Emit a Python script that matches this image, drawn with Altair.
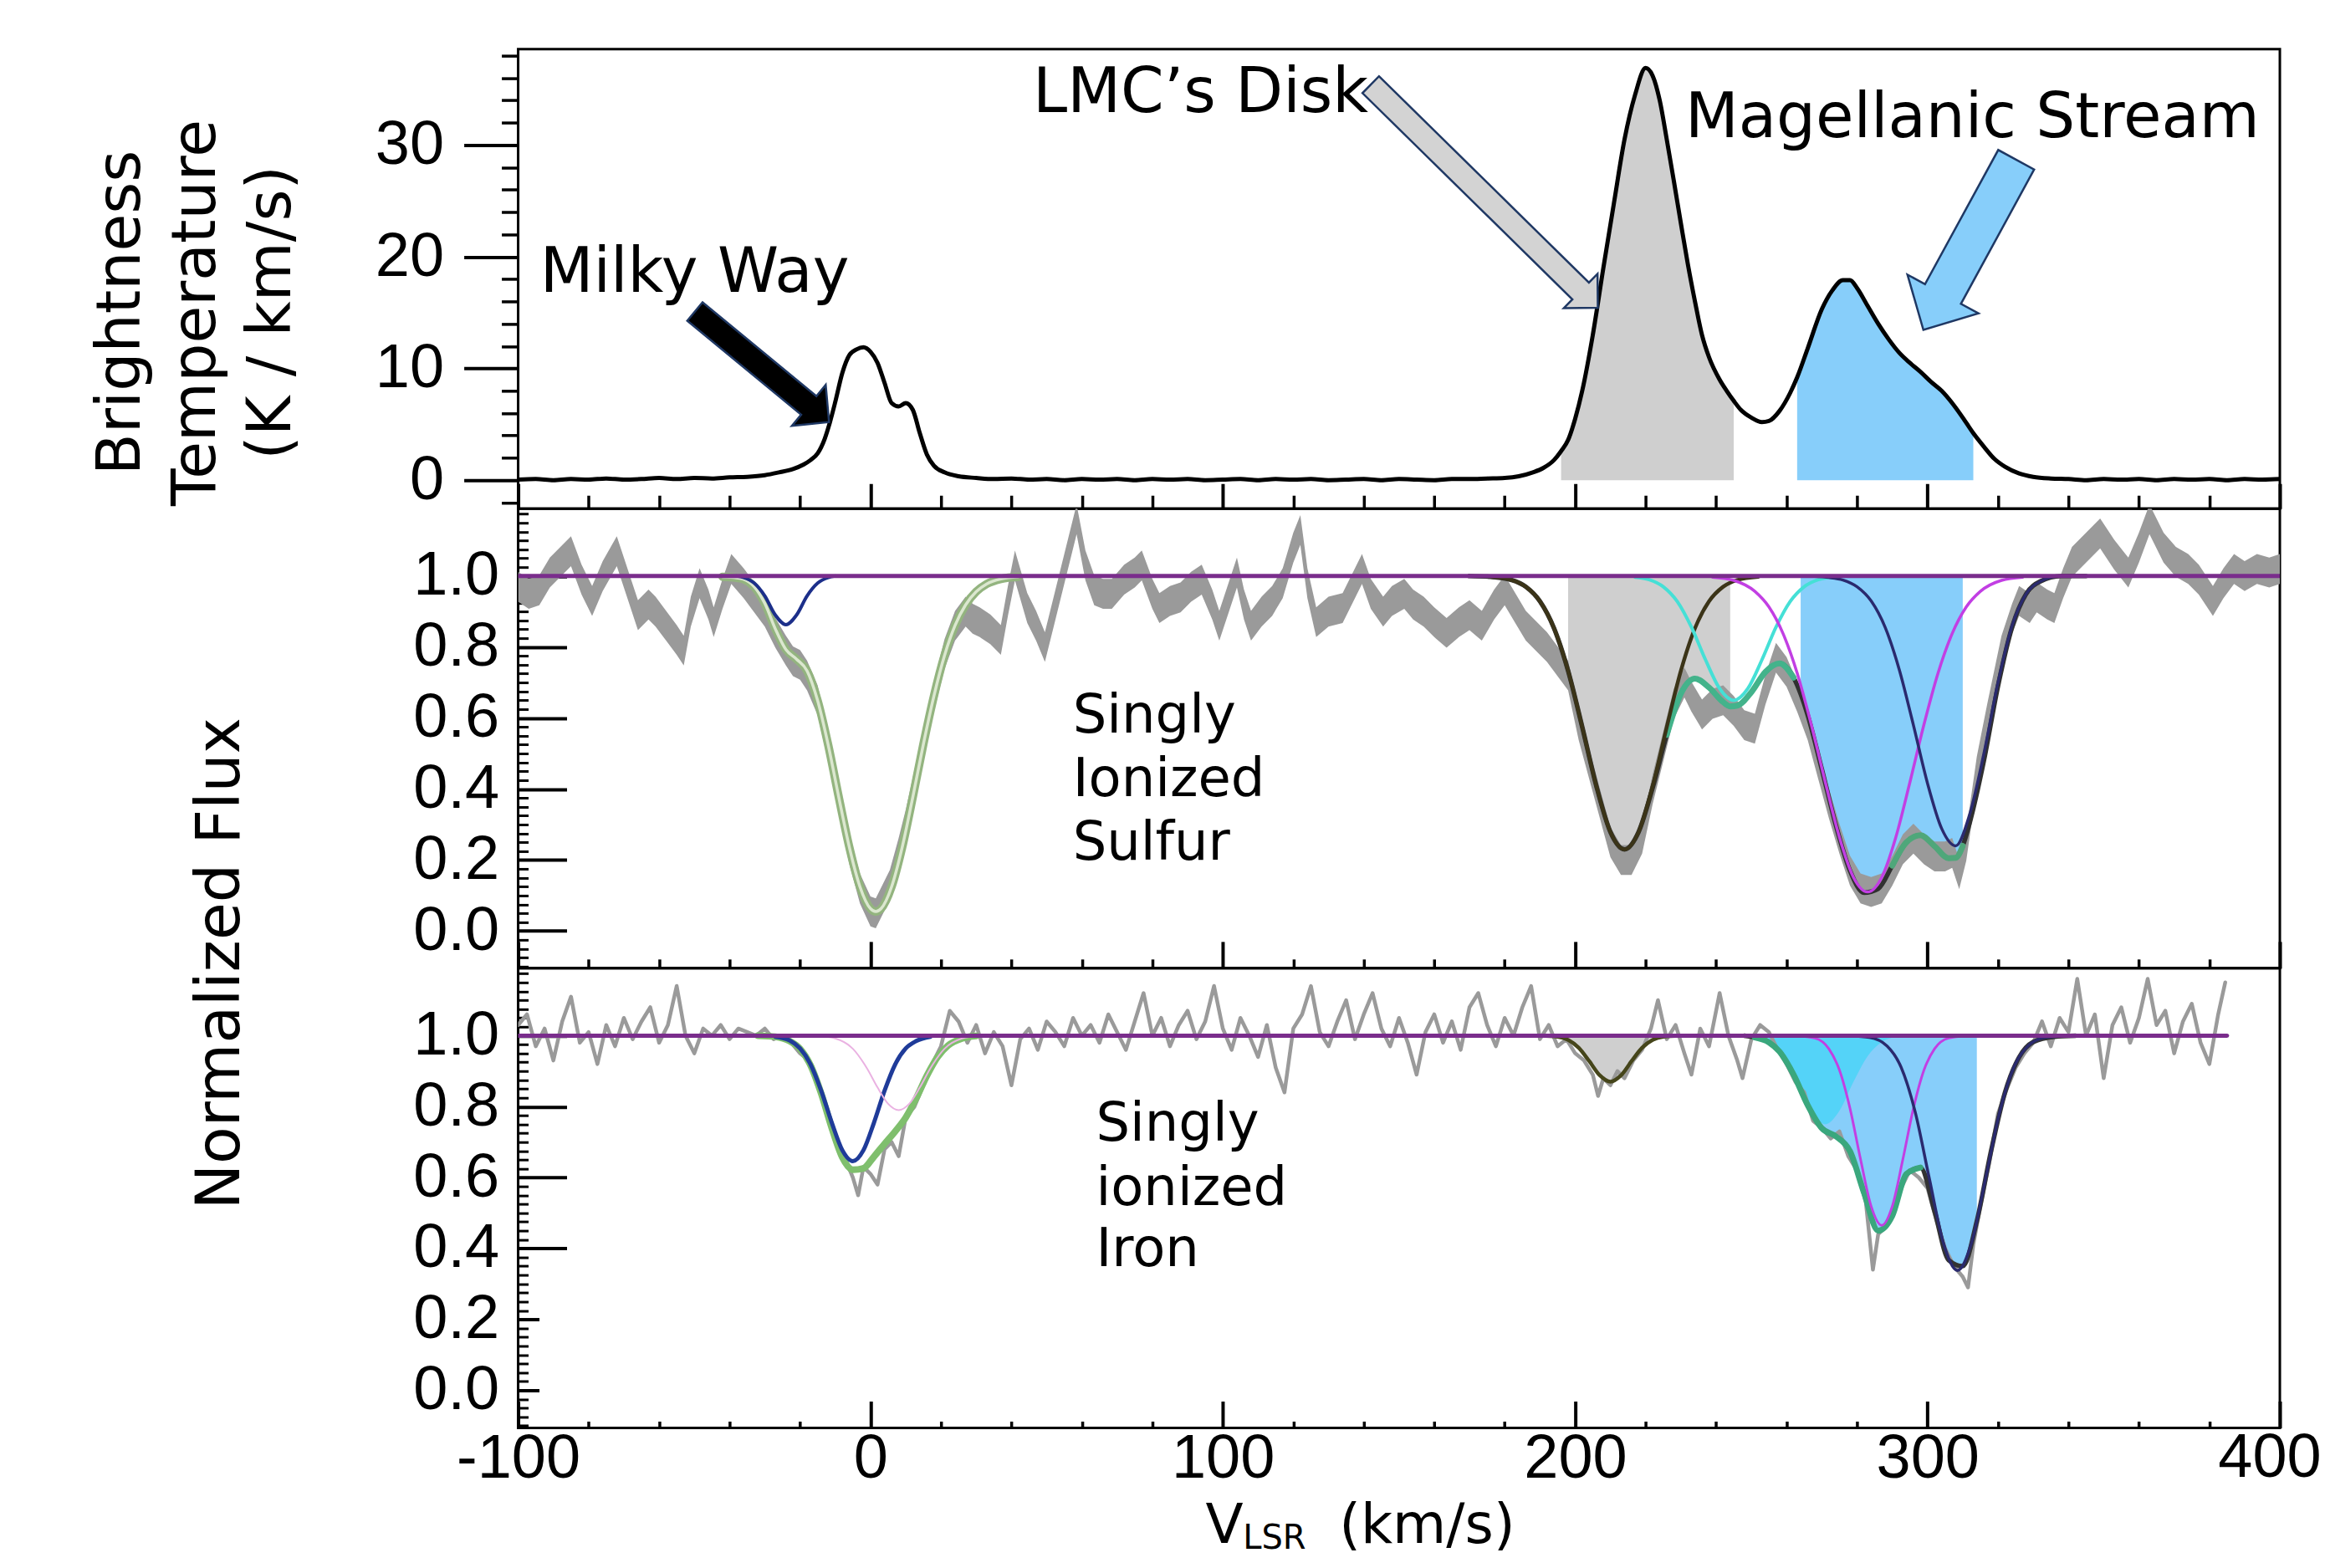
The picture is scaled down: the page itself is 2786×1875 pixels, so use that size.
import altair as alt
import pandas as pd

# ---------------- HI 21-cm emission (top panel): (velocity km/s, brightness temperature) ----------------
HI = [(-100,0.05),(-95,0.1),(-90,0.0),(-85,0.1),(-80,0.05),(-75,0.15),(-70,0.05),(-65,0.1),(-60,0.2),(-55,0.1),
      (-50,0.2),(-45,0.15),(-40,0.25),(-35,0.3),(-30,0.45),(-26,0.7),(-22,1.0),(-19,1.4),(-17,1.8),(-15,2.4),
      (-13,3.7),(-11.5,5.2),(-10,7.0),(-8,9.6),(-6,11.2),(-4,11.7),(-2,11.9),(0,11.5),(2,10.5),(4,8.7),
      (6,6.9),(8,6.6),(10,6.9),(12,6.3),(14,4.2),(16,2.3),(18,1.3),(21,0.7),(25,0.35),(30,0.2),
      (35,0.1),(40,0.15),(45,0.05),(50,0.1),(55,0.0),(60,0.1),(65,0.05),(70,0.1),(75,0.0),(80,0.1),
      (85,0.05),(90,0.1),(95,0.0),(100,0.05),(105,0.1),(110,0.0),(115,0.1),(120,0.05),(125,0.1),(130,0.0),
      (135,0.05),(140,0.1),(145,0.0),(150,0.1),(155,0.05),(160,0.0),(165,0.1),(170,0.1),(175,0.15),(180,0.2),
      (184,0.35),(188,0.7),(191,1.1),(194,1.8),(196,2.6),(198,3.6),(200,5.5),(202,8.0),(205,13.0),(208,19.0),
      (211,24.8),(214,30.5),(217,34.5),(220,36.9),(222,36.2),(224,34.0),(226,30.5),(228,26.8),(230,23.0),(232,19.3),
      (234,16.0),(236,13.0),(238,11.0),(241,9.0),(243,8.0),(245,7.1),(247,6.3),(250,5.6),(253,5.2),(255,5.3),
      (258,6.2),(261,7.8),(263,9.2),(266,11.8),(270,15.3),(273,17.0),(276,17.9),(278,17.9),(280,17.2),(283,15.6),
      (286,14.0),(289,12.6),(292,11.4),(295,10.5),(298,9.7),(301,8.8),(304,8.0),(307,6.9),(310,5.6),(313,4.2),
      (316,3.0),(319,1.9),(322,1.2),(326,0.6),(330,0.3),(335,0.15),(340,0.1),(345,0.0),(350,0.1),(355,0.05),
      (360,0.1),(365,0.0),(370,0.1),(375,0.05),(380,0.1),(385,0.0),(390,0.1),(395,0.05),(400,0.1)]

# ---------------- Singly ionized sulfur (middle panel): normalized flux ----------------
SII = [(-100,0.97),(-97,0.95),(-94,0.96),(-91,1.01),(-88,1.04),(-85,1.07),(-82,0.99),(-79,0.93),(-76,1.00),(-72,1.07),
       (-69,0.98),(-66,0.89),(-63,0.92),(-61,0.90),(-58,0.86),(-55,0.82),(-53,0.79),(-51,0.90),(-48.5,0.98),(-46,0.92),
       (-44.5,0.87),(-42,0.95),(-39.5,1.02),(-36,0.98),(-33,0.94),(-30,0.90),(-27,0.84),(-24,0.79),(-22,0.76),(-20,0.75),
       (-18,0.72),(-15,0.65),(-12,0.52),(-9,0.37),(-6,0.23),(-3,0.12),(0,0.055),(1.5,0.05),(3,0.08),(5.5,0.13),
       (8,0.22),(10,0.30),(12,0.39),(15,0.53),(18,0.66),(21,0.78),(24,0.86),(27,0.90),(29,0.88),(31,0.87),
       (34,0.85),(37,0.82),(39,0.93),(41,1.03),(44.5,0.91),(47,0.86),(49.5,0.80),(52,0.90),(55,1.02),(58.5,1.16),
       (61,1.03),(63.5,0.96),(66,0.95),(68.5,0.95),(72,0.99),(75,1.01),(77,1.03),(80,0.95),(82,0.91),(85,0.93),
       (88,0.94),(91,0.97),(94,0.99),(97,0.92),(99,0.86),(102,0.95),(104,1.01),(106,0.92),(108,0.86),(111,0.90),
       (114,0.93),(117,0.98),(120,1.08),(122,1.13),(124,0.98),(126.5,0.87),(130,0.90),(134,0.91),(137,0.97),(139.5,1.02),
       (142,0.95),(145.5,0.90),(148,0.93),(151.5,0.95),(154,0.92),(157,0.90),(160,0.87),(163.5,0.84),(167,0.87),(170,0.89),
       (173.5,0.86),(177,0.92),(180,0.96),(183,0.91),(186,0.86),(189,0.83),(192,0.80),(195,0.76),(198,0.72),(201,0.58),
       (204,0.47),(207,0.36),(210,0.25),(213,0.20),(216,0.20),(219,0.26),(222,0.40),(225,0.52),(228,0.64),(231,0.70),
       (233,0.66),(236,0.61),(239,0.64),(242,0.65),(245,0.62),(248,0.58),(251,0.57),(254,0.68),(257,0.77),(260,0.73),
       (263,0.66),(266,0.58),(269,0.47),(272,0.36),(275,0.26),(278,0.17),(281,0.12),(284,0.11),(287,0.12),(290,0.17),
       (293,0.23),(296,0.26),(299,0.23),(302,0.21),(305,0.21),(307,0.22),(309,0.16),(311,0.24),(314,0.45),(317,0.60),
       (321,0.79),(324,0.88),(326,0.93),(329,0.91),(331,0.94),(334,0.92),(336,0.91),(338.5,0.98),(341,1.04),(345,1.08),
       (349,1.12),(353,1.06),(357,1.01),(360,1.08),(363,1.16),(367,1.08),(370.5,1.04),(374,1.02),(377,0.99),(381,0.93),
       (384,0.98),(387,1.02),(390,1.00),(393.5,1.02),(397,1.01),(400,1.02)]

SII_MW_TOT = [(-42,0.998),(-38,0.995),(-36,0.991),(-33,0.970),(-30,0.923),(-27,0.851),(-24,0.793),(-21,0.766),(-18,0.733),
              (-15,0.649),(-12,0.524),(-9,0.377),(-6,0.236),(-3,0.125),(0,0.063),(1.5,0.055),(3,0.063),(6,0.125),(9,0.236),
              (12,0.377),(15,0.526),(18,0.662),(21,0.776),(24,0.861),(27,0.919),(30,0.956),(33,0.978),(37,0.992),(42,0.998)]
SII_MW_BLUE = [(-38,1.0),(-36,0.996),(-33,0.98),(-30,0.944),(-27,0.89),(-24,0.863),(-21,0.89),(-18,0.944),(-15,0.98),
               (-12,0.996),(-10,1.0)]
SII_TOT = [(170,1.0),(176,0.998),(182,0.989),(186,0.970),(190,0.929),(194,0.853),(198,0.733),(202,0.575),(206,0.409),
           (210,0.279),(214,0.230),(218,0.279),(222,0.404),(226,0.553),(230,0.669),(234,0.711),(238,0.686),(242,0.645),
           (244,0.633),(246,0.635),(250,0.673),(254,0.730),(258,0.754),(262,0.714),(264,0.668),(266,0.608),(270,0.456),
           (274,0.298),(278,0.170),(282,0.108),(286,0.119),(290,0.184),(294,0.250),(298,0.270),(302,0.239),(306,0.205),
           (308,0.206),(310,0.240),(312,0.306),(316,0.480),(320,0.690),(324,0.856),(328,0.950),(332,0.985),(338,1.0),(345,1.0)]
SII_LMC = [(176,0.998),(182,0.989),(186,0.970),(190,0.929),(194,0.853),(198,0.733),(202,0.575),(206,0.409),(210,0.279),
           (214,0.230),(218,0.279),(222,0.409),(226,0.575),(230,0.733),(234,0.853),(238,0.929),(242,0.970),(246,0.989),(252,0.998)]
SII_CYAN = [(217,0.997),(221,0.990),(225,0.970),(229,0.928),(233,0.856),(237,0.764),(241,0.683),(245,0.650),(249,0.683),
            (253,0.764),(257,0.856),(261,0.928),(265,0.970),(269,0.990),(273,0.997)]
SII_MAG = [(239,0.997),(245,0.988),(251,0.957),(255,0.913),(259,0.838),(263,0.727),(267,0.582),(271,0.419),(275,0.264),
           (279,0.151),(283,0.110),(287,0.151),(291,0.264),(295,0.419),(299,0.582),(303,0.727),(307,0.838),(311,0.913),
           (315,0.957),(321,0.988),(327,0.997)]
SII_NAVY = [(268,0.999),(272,0.996),(276,0.989),(280,0.970),(284,0.930),(288,0.855),(292,0.736),(296,0.580),(300,0.416),
            (304,0.289),(308,0.240),(312,0.330),(316,0.500),(320,0.700),(324,0.860),(328,0.950),(332,0.985),(338,1.0),(342,1.0)]
CONT_S = [(-100,1.0),(400,1.0)]

# ---------------- Singly ionized iron (bottom panel): normalized flux ----------------
FE = [(-100,1.03),(-97.5,1.06),(-95,0.97),(-92.5,1.02),(-90,0.93),(-87.5,1.04),(-85,1.11),(-82.5,0.98),(-80,1.01),(-77.5,0.92),
      (-75,1.03),(-72.5,0.97),(-70,1.05),(-67.5,0.99),(-65,1.04),(-62.5,1.08),(-60,0.98),(-57.5,1.03),(-55,1.14),(-52.5,1.00),
      (-50,0.95),(-47.5,1.02),(-45,1.00),(-42.5,1.03),(-40,0.99),(-37.5,1.02),(-35,1.01),(-32.5,1.00),(-30,1.02),(-27.5,0.99),
      (-25,1.00),(-22.5,0.98),(-20,0.95),(-17.5,0.93),(-15,0.87),(-12.5,0.79),(-10,0.72),(-7.5,0.66),(-5,0.60),(-3.5,0.55),
      (-2,0.63),(0,0.61),(2,0.58),(4,0.68),(6,0.70),(8,0.66),(10,0.77),(12.5,0.80),(15,0.86),(17.5,0.92),
      (20,0.97),(22.5,1.07),(25,1.04),(27.5,0.98),(30,1.03),(32.5,0.95),(35,1.01),(37.5,0.97),(40,0.86),(42.5,0.99),
      (45,1.02),(47.5,0.96),(50,1.04),(52.5,1.01),(55,0.97),(57.5,1.05),(60,1.00),(62.5,1.03),(65,0.98),(67.5,1.06),
      (70,1.01),(72.5,0.96),(75,1.04),(77.5,1.12),(80,1.00),(82.5,1.05),(85,0.97),(87.5,1.03),(90,1.07),(92.5,0.99),
      (95,1.04),(97.5,1.14),(100,1.02),(102.5,0.96),(105,1.05),(107.5,1.00),(110,0.94),(112.5,1.03),(115,0.91),(117.5,0.84),
      (120,1.02),(122.5,1.06),(125,1.14),(127.5,1.01),(130,0.97),(132.5,1.04),(135,1.10),(137.5,0.99),(140,1.06),(142.5,1.12),
      (145,1.02),(147.5,0.97),(150,1.05),(152.5,0.98),(155,0.89),(157.5,1.01),(160,1.06),(162.5,0.98),(165,1.04),(167.5,0.96),
      (170,1.08),(172.5,1.12),(175,1.03),(177.5,0.97),(180,1.05),(182.5,1.00),(185,1.08),(187.5,1.14),(190,0.99),(192.5,1.03),
      (195,0.97),(197.5,0.99),(200,0.95),(202.5,0.93),(205,0.89),(206.5,0.83),(208,0.88),(210,0.86),(212,0.90),(214,0.88),
      (216.5,0.93),(219,0.96),(221.5,1.02),(223.5,1.10),(226,0.99),(228.5,1.03),(231,0.95),(233,0.89),(235.5,1.02),(238,0.97),
      (241,1.12),(243.5,1.00),(246,0.93),(247.5,0.88),(250,0.99),(252.5,1.03),(255,1.01),(257.5,0.96),(260,0.92),(262.5,0.87),
      (265,0.84),(267.5,0.76),(270,0.74),(272.5,0.71),(275,0.73),(277.5,0.66),(280,0.62),(282.5,0.53),(284.5,0.34),(286,0.44),
      (288,0.46),(290,0.50),(292.5,0.57),(295,0.62),(297.5,0.60),(300,0.57),(302.5,0.48),(305,0.40),(307.5,0.35),(310,0.32),
      (311.5,0.29),(313,0.41),(315,0.52),(317.5,0.64),(320,0.78),(322.5,0.85),(325,0.91),(327.5,0.95),(330,0.98),(332.5,1.04),
      (335,0.97),(337.5,1.05),(340,1.01),(342.5,1.16),(345,1.00),(347.5,1.06),(350,0.88),(352.5,1.03),(355,1.08),(357.5,0.98),
      (360,1.05),(362.5,1.16),(365,1.03),(367.5,1.07),(370,0.95),(372.5,1.04),(375,1.09),(377.5,0.98),(380,0.92),(382.5,1.06),
      (384.5,1.15)]

FE_MW_TOT = [(-32,1.0),(-27,0.997),(-23,0.985),(-20,0.963),(-17,0.916),(-14,0.837),(-11,0.74),(-8,0.657),(-5,0.622),(-2,0.626),
             (1,0.659),(4,0.695),(7,0.73),(10,0.769),(13,0.824),(16,0.887),(19,0.939),(22,0.972),(26,0.992),(30,0.999)]
FE_MW_BLUE = [(-27,0.997),(-23,0.987),(-20,0.964),(-17,0.919),(-14,0.845),(-11,0.755),(-8,0.677),(-5,0.646),(-2,0.677),
              (1,0.755),(4,0.845),(7,0.919),(10,0.964),(13,0.985),(17,0.997)]
FE_MW_PINK = [(-12,0.996),(-10,0.992),(-5,0.963),(-1,0.908),(2,0.854),(5,0.808),(8,0.79),(11,0.808),(14,0.854),(17,0.908),
              (21,0.963),(26,0.992),(28,0.996)]
FE_LMC = [(190,1.0),(195,0.997),(198,0.988),(201,0.966),(204,0.928),(207,0.888),(210,0.87),(213,0.888),(216,0.928),
          (219,0.966),(222,0.988),(225,0.997),(230,1.0)]
FE_TOT = [(248,1.0),(251,0.995),(255,0.981),(258,0.955),(262,0.89),(266,0.804),(270,0.739),(274,0.716),(278,0.674),(282,0.556),
          (286,0.45),(290,0.492),(294,0.61),(298,0.628),(302,0.505),(306,0.367),(310,0.35),(314,0.477),(318,0.673),(322,0.84),
          (326,0.939),(330,0.982),(336,0.997),(342,1.0)]
FE_CYAN = [(251,0.996),(255,0.982),(259,0.942),(263,0.87),(267,0.788),(271,0.75),(275,0.788),(279,0.87),(283,0.942),
           (287,0.982),(291,0.996)]
FE_MAG = [(263,0.999),(268,0.993),(272,0.963),(275,0.903),(278,0.795),(281,0.651),(284,0.519),(287,0.465),(290,0.519),
          (293,0.651),(296,0.795),(299,0.903),(302,0.963),(306,0.993),(311,0.999)]
FE_NAVY = [(278,0.999),(283.5,0.995),(288.5,0.971),(292.5,0.911),(296.5,0.785),(300.5,0.598),(304.5,0.416),(308.5,0.338),
           (312.5,0.416),(316.5,0.598),(320.5,0.785),(324.5,0.911),(328.5,0.971),(333.5,0.995),(340,1.0)]
CONT_F = [(-100,1.0),(385,1.0)]

# ---------------- ticks & labels ----------------
X_MAJOR = [-100, 0, 100, 200, 300, 400]
X_LABELED = [-100, 0, 100, 200, 300]
X_LAST = ["400"]
X_MINOR = [-80, -60, -40, -20, 20, 40, 60, 80, 120, 140, 160, 180, 220, 240, 260, 280, 320, 340, 360, 380]
T_MAJOR = [0, 10, 20, 30]
T_MINOR = [-2, 2, 4, 6, 8, 12, 14, 16, 18, 22, 24, 26, 28, 32, 34, 36, 38]
F_MAJOR = [0.0, 0.2, 0.4, 0.6, 0.8, 1.0]
F_MINOR = [round(i * 0.025, 3) for i in range(-4, 48) if i % 8 != 0]
TOP_TITLE = ["Brightness", "Temperature", "(K / km/s)"]
MID_TITLE = "Normalized Flux"
X_TITLE = ["V", "LSR", "(km/s)"]

# annotation texts and their anchors (data units)
ANN_TOP = ["Milky Way", "LMC\u2019s Disk", "Magellanic Stream"]
ANN_TOP_V = [-93.8, 46.1, 231.2]
ANN_TOP_Y = [16.83, 32.95, 30.74]
ANN_S = ["Singly", "Ionized", "Sulfur"]
ANN_S_V = [57.4, 57.4, 57.4]
ANN_S_Y = [0.559, 0.380, 0.201]
ANN_F = ["Singly", "ionized", "Iron"]
ANN_F_V = [64.0, 64.0, 64.0]
ANN_F_Y = [0.705, 0.523, 0.351]
ARROW_V = [-30.8, 174.2, 312.0]
ARROW_Y = [10.15, 25.42, 21.07]
X_TITLE_V = [95.1, 105.7, 133.0]
X_TITLE_Y = [-0.4311, -0.4476, -0.4311]
X_LAST_Y = -0.1083

# ---------------- styling ----------------
FONT = "DejaVu Sans"
TFONT = "Liberation Sans"
TICK_FS = 74
W = 2108
TDOM = [-2.55, 38.6]
MDOM = [-0.105, 1.19]
BDOM = [-0.106, 1.19]
SDOM = [-0.4712, -0.106]
PATH_MW = "M-1,-0.138L0.698,-0.138L0.698,-0.306L1,0L0.698,0.306L0.698,0.138L-1,0.138Z"
PATH_LMC = "M-1,-0.074L0.849,-0.074L0.849,-0.151L1,0L0.849,0.151L0.849,0.074L-1,0.074Z"
PATH_MS = "M-1,-0.211L0.578,-0.211L0.578,-0.417L1,0L0.578,0.417L0.578,0.211L-1,0.211Z"


def df_of(pairs, lo=None, hi=None):
    d = pd.DataFrame(pairs, columns=["v", "y"])
    if lo is not None:
        d = d[(d["v"] >= lo) & (d["v"] <= hi)]
    return d


def X(axis=None):
    return alt.X("v:Q", scale=alt.Scale(domain=[-100, 400], nice=False, zero=False), axis=axis)


def Y(dom, axis=None, field="y"):
    return alt.Y(field + ":Q", scale=alt.Scale(domain=dom, nice=False, zero=False), axis=axis)


def line(pairs, dom, color, width, lo=None, hi=None, interp="monotone", opacity=1.0):
    return alt.Chart(df_of(pairs, lo, hi)).mark_line(
        color=color, strokeWidth=width, interpolate=interp, clip=True,
        strokeJoin="round", strokeCap="round", opacity=opacity
    ).encode(x=X(), y=Y(dom))


def fill(pairs, dom, base, color, lo=None, hi=None, opacity=1.0):
    return alt.Chart(df_of(pairs, lo, hi)).mark_area(
        color=color, interpolate="monotone", opacity=opacity, clip=True
    ).encode(x=X(), y=Y(dom), y2=alt.datum(base))


def texts(labels, vs, ys, dom, size, font=FONT, align="left", baseline="alphabetic", dx=0, clip=False):
    d = pd.DataFrame({"label": labels, "v": vs, "y": ys})
    return alt.Chart(d).mark_text(
        align=align, baseline=baseline, font=font, fontSize=size, color="black", clip=clip, dx=dx
    ).encode(x=X(), y=Y(dom), text="label:N")


def ax_layer(dom, xaxis=None, yaxis=None):
    d = pd.DataFrame({"v": [-100.0, 400.0], "y": [dom[0], dom[1]]})
    return alt.Chart(d).mark_point(opacity=0, size=1).encode(x=X(xaxis), y=Y(dom, yaxis))


def inward(orient, values, length, width):
    return alt.Axis(orient=orient, values=values, offset=-length, tickSize=length, tickWidth=width,
                    tickColor="black", labels=False, domain=False, grid=False, title=None)


def outward(orient, values, length, width):
    return alt.Axis(orient=orient, values=values, tickSize=length, tickWidth=width,
                    tickColor="black", labels=False, domain=False, grid=False, title=None)


def arrow(i, path, size, angle, color):
    d = pd.DataFrame({"v": [ARROW_V[i]], "y": [ARROW_Y[i]]})
    return alt.Chart(d).mark_point(
        shape=path, size=size, angle=angle, filled=True, fill=color, stroke="#1f3864",
        strokeWidth=2.5, opacity=1, clip=False
    ).encode(x=X(), y=Y(TDOM))


# ---------------- top panel ----------------
top_layers = [
    fill(HI, TDOM, 0, "#cfcfcf", 196, 245),
    fill(HI, TDOM, 0, "#87cefa", 263, 313),
    line(HI, TDOM, "black", 5),
    arrow(0, PATH_MW, 208 ** 2, 39.5, "black"),
    arrow(1, PATH_LMC, 381 ** 2, 44.5, "#d3d3d3"),
    arrow(2, PATH_MS, 232 ** 2, 118.6, "#87cefa"),
    texts(ANN_TOP, ANN_TOP_V, ANN_TOP_Y, TDOM, 74),
    ax_layer(TDOM, xaxis=inward("bottom", X_MAJOR, 30, 4)),
    ax_layer(TDOM, xaxis=inward("bottom", X_MINOR, 16, 3.5)),
    ax_layer(TDOM, yaxis=alt.Axis(
        orient="left", values=T_MAJOR, tickSize=65, tickWidth=4, labelPadding=24, format="d",
        title=TOP_TITLE, titleAngle=270, titleAlign="center", titleBaseline="middle",
        titleLineHeight=90, titleX=-475, titleY=315)),
    ax_layer(TDOM, yaxis=outward("left", T_MINOR, 20, 3.5)),
]
top = alt.layer(*top_layers).resolve_axis(x="independent", y="independent").properties(width=W, height=550)

# ---------------- middle panel (S II) ----------------
band = alt.Chart(df_of(SII)).transform_calculate(
    lo="datum.y - 0.042", hi="datum.y + 0.042"
).mark_area(color="#9a9a9a", interpolate="linear", clip=True, opacity=1).encode(
    x=X(), y=Y(MDOM, field="lo"), y2=alt.Y2("hi")
)
mid_layers = [
    fill(SII_TOT, MDOM, 1.0, "#cfcfcf", 198, 244),
    fill(SII_TOT, MDOM, 1.0, "#87cefa", 264, 310),
    band,
    line(SII_MW_TOT, MDOM, "#93b47f", 10),
    line(SII_MW_TOT, MDOM, "#dbe7cf", 3.5),
    line(SII_MW_BLUE, MDOM, "#1c2f8a", 4),
    line(SII_TOT, MDOM, "#303030", 5.5),
    line(SII_TOT, MDOM, "#43b38b", 7, 226, 262),
    line(SII_TOT, MDOM, "#4fa77a", 7, 288, 311),
    line(SII_LMC, MDOM, "#3b3418", 4.5),
    line(SII_CYAN, MDOM, "#45e0d6", 4),
    line(SII_MAG, MDOM, "#c23fe3", 3.5),
    line(SII_NAVY, MDOM, "#2a2a6e", 3.5),
    line(CONT_S, MDOM, "#7a2d8c", 5, interp="linear"),
    texts(ANN_S, ANN_S_V, ANN_S_Y, MDOM, 64),
    ax_layer(MDOM, xaxis=inward("bottom", X_MAJOR, 32, 4)),
    ax_layer(MDOM, xaxis=inward("bottom", X_MINOR, 11, 3.5)),
    ax_layer(MDOM, yaxis=alt.Axis(
        orient="left", values=F_MAJOR, ticks=False, tickSize=0, labelPadding=23, format=".1f",
        title=MID_TITLE, titleAngle=270, titleAlign="center", titleBaseline="middle",
        titleX=-356, titleY=544)),
    ax_layer(MDOM, yaxis=inward("left", F_MAJOR, 58, 4)),
    ax_layer(MDOM, yaxis=inward("left", F_MINOR, 12, 3)),
]
mid = alt.layer(*mid_layers).resolve_axis(x="independent", y="independent").properties(width=W, height=550)

# ---------------- bottom panel (Fe II) ----------------
bot_layers = [
    fill(FE_LMC, BDOM, 1.0, "#cfcfcf", 196, 226),
    fill(FE_TOT, BDOM, 1.0, "#87cefa", 255, 314),
    fill(FE_CYAN, BDOM, 1.0, "#3fd6f6", opacity=0.7),
    line(FE, BDOM, "#9a9a9a", 4.5, interp="linear"),
    line(FE_MW_TOT, BDOM, "#7fbf6d", 8),
    line(FE_MW_BLUE, BDOM, "#1f3b99", 5),
    line(FE_MW_PINK, BDOM, "#eab2e2", 2),
    line(FE_LMC, BDOM, "#45451a", 4.5),
    line(FE_TOT, BDOM, "#333333", 5.5),
    line(FE_TOT, BDOM, "#3aa77d", 7, 250, 298),
    line(FE_MAG, BDOM, "#c23fe3", 3),
    line(FE_NAVY, BDOM, "#2a2a6e", 3.5),
    line(CONT_F, BDOM, "#7a2d8c", 5, interp="linear"),
    texts(ANN_F, ANN_F_V, ANN_F_Y, BDOM, 64),
    texts(X_LAST, [400], [X_LAST_Y], BDOM, TICK_FS, font=TFONT, align="center", baseline="top", dx=-12),
    ax_layer(BDOM, xaxis=alt.Axis(orient="bottom", values=X_LABELED, ticks=False, tickSize=0, labelPadding=1,
                                  format="d", labelExpr="datum.value < 0 ? '-' + abs(datum.value) : datum.label",
                                  domain=False, grid=False, title=None)),
    ax_layer(BDOM, xaxis=inward("bottom", X_MAJOR, 32, 4)),
    ax_layer(BDOM, xaxis=inward("bottom", X_MINOR, 8, 3.5)),
    ax_layer(BDOM, yaxis=alt.Axis(orient="left", values=F_MAJOR, ticks=False, tickSize=0, labelPadding=23,
                                  format=".1f", title=None)),
    ax_layer(BDOM, yaxis=inward("left", [0.4, 0.6, 0.8, 1.0], 58, 4)),
    ax_layer(BDOM, yaxis=inward("left", [0.0, 0.2], 25, 4)),
    ax_layer(BDOM, yaxis=inward("left", F_MINOR, 12, 3)),
]
bot = alt.layer(*bot_layers).resolve_axis(x="independent", y="independent").properties(width=W, height=550)

# ---------------- strip below the plots holding the x-axis title ----------------
strip = alt.layer(
    texts([X_TITLE[0]], [X_TITLE_V[0]], [X_TITLE_Y[0]], SDOM, 66, clip=True),
    texts([X_TITLE[1]], [X_TITLE_V[1]], [X_TITLE_Y[1]], SDOM, 40, clip=True),
    texts([X_TITLE[2]], [X_TITLE_V[2]], [X_TITLE_Y[2]], SDOM, 66, clip=True),
).properties(width=W, height=155, view=alt.ViewBackground(strokeOpacity=0, strokeWidth=0))

chart = alt.vconcat(top, mid, bot, strip, spacing=0, bounds="flush").properties(
    padding={"left": 99, "top": 48, "right": 0, "bottom": 0},
    background="white",
).configure(font=FONT).configure_view(
    stroke="black", strokeWidth=3
).configure_axis(
    labelFont=TFONT, labelFontSize=TICK_FS, labelColor="black", tickColor="black",
    domain=False, grid=False, labelFlush=False, labelOverlap=False,
    titleFont=FONT, titleFontSize=73, titleFontWeight="normal", titleColor="black",
)

chart.save("out.html", embed_options={"renderer": "svg", "actions": False})
